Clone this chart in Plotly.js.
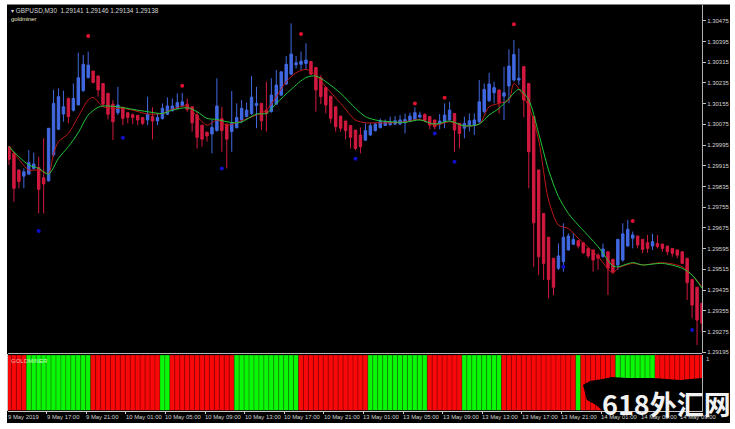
<!DOCTYPE html>
<html><head><meta charset="utf-8">
<script src="https://cdn.plot.ly/plotly-3.0.1.min.js"></script>
<style>html,body{margin:0;padding:0;background:#fff;overflow:hidden}</style>
</head><body><div id="chart" style="width:735px;height:429px"></div>
<script>
// Prices in points (1e-5)
const priceOpen=[129989,129963,129899,129875,129883,129905,129909,129869,129857,129957,130056,130115,130175,130130,130150,130205,130255,130281,130262,130233,130195,130153,130120,130141,130120,130112,130110,130102,130092,130105,130088,130097,130114,130128,130137,130147,130153,130143,130111,130072,130045,130038,130051,130097,130075,130047,130062,130092,130105,130117,130148,130156,130130,130124,130153,130188,130231,130269,130305,130307,130310,130318,130295,130255,130218,130184,130143,130107,130088,130071,130053,130034,130014,130034,130051,130062,130071,130074,130076,130076,130081,130087,130094,130103,130114,130105,130092,130076,130085,130092,130117,130079,130060,130069,130072,130085,130124,130166,130197,130208,130184,130223,130246,130246,130298,130233,130105,129899,129731,129639,129558,129519,129545,129590,129612,129626,129618,129596,129590,129570,129564,129583,129554,129532,129551,129605,129635,129644,129631,129618,129605,129615,129613,129605,129596,129590,129583,129558,129476,129446,129384];
const priceHigh=[129989,129963,129899,129905,129976,129966,129950,130021,130060,130208,130214,130205,130178,130233,130352,130343,130356,130281,130262,130233,130195,130169,130220,130141,130120,130117,130110,130102,130182,130141,130117,130156,130179,130175,130195,130197,130175,130143,130124,130072,130045,130092,130253,130143,130079,130204,130156,130169,130159,130262,130220,130156,130240,130253,130285,130278,130339,130465,130339,130356,130388,130318,130295,130265,130218,130184,130143,130107,130088,130071,130053,130063,130079,130079,130081,130098,130094,130105,130107,130111,130117,130120,130141,130124,130117,130105,130092,130115,130156,130162,130117,130079,130105,130117,130117,130246,130233,130274,130240,130208,130298,130365,130401,130368,130298,130233,130105,129899,129731,129639,129558,129615,129693,129654,129654,129626,129618,129596,129590,129577,129615,129583,129554,129631,129693,129706,129661,129644,129631,129648,129652,129648,129613,129605,129596,129590,129583,129558,129476,129446,129384];
const priceLow=[129918,129776,129828,129828,129879,129899,129731,129731,129854,129950,130053,130085,130079,130124,130150,130201,130253,130233,130182,130146,130094,130014,130111,130072,130079,130076,130072,130072,130072,130017,130072,130094,130111,130124,130133,130143,130124,130047,129982,129989,130008,129963,130047,129969,129905,129969,130060,130079,130102,130111,130060,130053,130047,130120,130150,130184,130227,130265,130291,130285,130285,130265,130124,130153,130117,130079,130047,130047,130017,129982,129976,129963,130012,130030,130047,130060,130069,130069,130072,130072,130040,130084,130092,130098,130085,130056,130056,130056,130060,130089,129969,129982,130021,130047,130034,130079,130117,130162,130156,130117,130092,130156,130240,130227,130102,129828,129525,129493,129474,129403,129416,129513,129506,129587,129609,129596,129574,129558,129506,129513,129561,129416,129500,129513,129545,129603,129596,129596,129577,129579,129590,129596,129583,129570,129564,129558,129538,129397,129326,129223,129274];
const priceClose=[129940,129828,129854,129892,129927,129922,129824,129845,130060,130156,130182,130143,130105,130175,130255,130307,130304,130237,130208,130153,130114,130085,130150,130098,130102,130102,130092,130079,130114,130088,130102,130137,130146,130146,130159,130162,130133,130081,130025,130018,130030,130063,130146,130051,130018,130079,130102,130137,130130,130180,130156,130089,130117,130188,130227,130278,130307,130347,130313,130319,130323,130269,130208,130182,130150,130098,130066,130060,130051,130025,129982,129989,130051,130070,130076,130089,130085,130085,130089,130092,130094,130107,130120,130111,130089,130072,130066,130088,130111,130130,130053,130040,130079,130089,130092,130162,130210,130231,130217,130159,130197,130300,130345,130253,130169,129969,129695,129564,129538,129476,129446,129567,129639,129644,129631,129605,129579,129567,129551,129558,129594,129519,129506,129631,129652,129670,129648,129609,129592,129596,129622,129603,129596,129583,129577,129570,129538,129464,129377,129319,129307];

const slowBar=[0,2,4,6,8,10,12,14,16,18,19,22,25,28,31,33,36,38,40,42,44,46,47,50,52,54,57,60,62,64,67,70,72,74,77,80,83,86,89,92,95,97,99,101,103,105,107,109,111,113,115,119,122,123,126,128,132,136,138,140];
const slowMA=[129989,129950,129918,129905,129883,129944,129989,130043,130111,130141,130146,130143,130133,130124,130117,130130,130139,130124,130098,130094,130085,130081,130084,130115,130117,130156,130210,130256,130262,130240,130195,130137,130105,130092,130085,130083,130092,130076,130088,130069,130076,130111,130137,130175,130210,130169,130040,129899,129796,129731,129686,129603,129528,129525,129541,129532,129538,129519,129493,129442];
const fastBar=[0,2,4,6,8,9,10,12,14,16,17,19,21,23,25,28,31,33,36,38,40,42,44,46,47,50,52,54,56,58,60,62,64,67,70,72,74,77,80,83,86,89,92,95,97,99,101,102,105,107,109,111,113,115,119,122,123,126,128,132,136,138,140];
const fastMA=[129989,129940,129899,129899,129886,129963,130008,130040,130105,130169,130179,130143,130137,130137,130130,130115,130117,130133,130146,130105,130072,130092,130072,130081,130089,130111,130130,130182,130240,130274,130287,130265,130220,130156,130092,130081,130081,130081,130085,130094,130072,130085,130069,130076,130143,130156,130169,130233,130143,130014,129783,129686,129673,129635,129564,129500,129519,129538,129532,129541,129525,129493,129448];

const sellBar=[16,35,59,82,88,102,126];
const sellPrice=[130416,130224,130424,130156,130178,130462,129702];
const buyBar=[6,23,43,70,86,90,112,138];
const buyPrice=[129663,130023,129905,129942,130040,129931,129525,129281];

// R = red bar, G = green bar of the GOLDMINER pane
const minerState="RRRRGGGGGGGGGGGGGRRRRRRRRRRRRRRGGRRRRRRRRRRRRRGGGGGGGGGGGGGRRRRRRRRRRRRRRGGGGGGGGGGGGRRRRRRRGGGGGGGGRRRRRRRRRRRRRRRGRRRRRRRGGGGGGGGRRRRRRRRRR".split("");

const priceTicks=[1.30475,1.30395,1.30315,1.30235,1.30155,1.30075,1.29995,1.29915,1.29835,1.29755,1.29675,1.29595,1.29515,1.29435,1.29355,1.29275,1.29195];
const timeTickBar=[-0.4,7.6,15.6,23.6,31.6,39.6,47.6,55.6,63.6,71.6,79.6,87.6,95.6,103.6,111.6,119.6,127.6,135.6];
const timeTickText=["9 May 2019","9 May 17:00","9 May 21:00","10 May 01:00","10 May 05:00","10 May 09:00","10 May 13:00","10 May 17:00","10 May 21:00","13 May 01:00","13 May 05:00","13 May 09:00","13 May 13:00","13 May 17:00","13 May 21:00","14 May 01:00","14 May 05:00","14 May 09:00"];

const bars=priceOpen.map((_,i)=>i);
const pts=a=>a.map(v=>v/1e5);
const W=735,H=429;
const px=x=>x/W, py=y=>1-y/H;
const FONT="Liberation Sans, Arial, sans-serif";
const C_TXT="#d4d4d4";

const traces=[
 {type:"candlestick",x:bars,open:pts(priceOpen),high:pts(priceHigh),low:pts(priceLow),close:pts(priceClose),
  xaxis:"x",yaxis:"y",whiskerwidth:0,hoverinfo:"skip",
  increasing:{line:{color:"#4169e1",width:1},fillcolor:"#4169e1"},
  decreasing:{line:{color:"#d2193f",width:1},fillcolor:"#d2193f"}},
 {type:"scatter",mode:"lines",x:fastBar,y:pts(fastMA),xaxis:"x",yaxis:"y",hoverinfo:"skip",
  line:{color:"#c01818",width:1,shape:"spline",smoothing:0.8}},
 {type:"scatter",mode:"lines",x:slowBar,y:pts(slowMA),xaxis:"x",yaxis:"y",hoverinfo:"skip",
  line:{color:"#22c83a",width:1,shape:"spline",smoothing:0.8}},
 {type:"scatter",mode:"markers",x:sellBar,y:pts(sellPrice),xaxis:"x",yaxis:"y",hoverinfo:"skip",
  marker:{color:"#e01030",size:4}},
 {type:"scatter",mode:"markers",x:buyBar,y:pts(buyPrice),xaxis:"x",yaxis:"y",hoverinfo:"skip",
  marker:{color:"#1010c8",size:4}},
 {type:"bar",x:bars,y:minerState.map(()=>1),xaxis:"x",yaxis:"y2",hoverinfo:"skip",width:1,
  marker:{color:minerState.map(s=>s==="R"?"#f80808":"#08f808"),line:{color:"rgba(60,0,0,0.28)",width:0.8}}}
];

const notes=[];
const txt=(x,y,text,size,color,extra)=>notes.push(Object.assign({xref:"paper",yref:"paper",x:px(x),y:py(y),text,showarrow:false,
  xanchor:"left",yanchor:"middle",align:"left",font:{family:FONT,size,color}},extra||{}));
txt(9,10.5,"▾ GBPUSD,M30  1.29141 1.29146 1.29134 1.29138",6.4,C_TXT);
txt(8.5,19,"goldminer",5.8,"#e8e8c8");
txt(8.5,360.5,'<span style="color:#ffb0b0">GOLD</span><span style="color:#c8ffc8">MINER</span>',6,"#fff");
txt(704,359,"1",6,C_TXT);
timeTickBar.forEach((b,i)=>{
  // bars are 4.95 px apart; the first label sits left of the visible bar range, so it is placed in paper units
  if(b<0) txt(6,417,timeTickText[i],5.9,C_TXT);
  else notes.push({xref:"x",yref:"paper",x:b,y:py(417),text:timeTickText[i],showarrow:false,xanchor:"left",yanchor:"middle",xshift:-2,
    font:{family:FONT,size:5.9,color:C_TXT}});
});
// site watermark sits on top of the picture
notes.push({xref:"paper",yref:"paper",x:px(600),y:py(403),text:"<b>618外汇网</b>",showarrow:false,xanchor:"left",yanchor:"middle",
  font:{family:"Noto Sans CJK SC",size:27,color:"#f2f2f2"}});

const poly=[[583,385],[590,381],[603,379],[612,377],[627,378],[653,378],[680,380],[702,378],[702,411],[603,411],[596,405],[587,400]];
const polyPath="M"+poly.map(p=>px(p[0]).toFixed(4)+","+py(p[1]).toFixed(4)).join(" L")+" Z";
const rect=(x0,y0,x1,y1,fill,line,layer)=>({type:"rect",xref:"paper",yref:"paper",x0:px(x0),y0:py(y0),x1:px(x1),y1:py(y1),
  fillcolor:fill,line:line?{color:line,width:1}:{width:0},layer:layer||"below"});

const layout={
 width:W,height:H,margin:{l:0,r:0,t:0,b:0,pad:0},paper_bgcolor:"#ffffff",plot_bgcolor:"rgba(0,0,0,0)",
 showlegend:false,bargap:0,dragmode:false,hovermode:false,
 xaxis:{domain:[px(8),px(702)],range:[-0.2,140],anchor:"y2",rangeslider:{visible:false},showgrid:false,zeroline:false,
   showline:true,linecolor:"#c8c8c8",linewidth:1,ticks:"outside",ticklen:2,tickcolor:"#d0d0d0",tickmode:"array",tickvals:timeTickBar.slice(1),showticklabels:false},
 yaxis:{domain:[py(353),py(5)],range:[1.29192,1.30536],side:"right",anchor:"x",showgrid:false,zeroline:false,
   showline:true,linecolor:"#b0b0b0",linewidth:1,ticks:"outside",ticklen:3,tickcolor:"#c0c0c0",tickmode:"array",
   tickvals:priceTicks,ticktext:priceTicks.map(v=>v.toFixed(5)),tickfont:{family:FONT,size:6,color:C_TXT}},
 yaxis2:{domain:[py(410.5),py(355)],range:[0,1],side:"right",anchor:"x",showgrid:false,zeroline:false,
   showline:true,linecolor:"#b0b0b0",linewidth:1,ticks:"",showticklabels:false},
 shapes:[
   rect(7,4,730,423,"#000000",null),
   {type:"line",xref:"paper",yref:"paper",x0:px(6.5),x1:px(730),y0:py(4),y1:py(4),line:{color:"#ffffff",width:1},layer:"below"},
   {type:"line",xref:"paper",yref:"paper",x0:px(8),x1:px(702),y0:py(353.5),y1:py(353.5),line:{color:"#b8b8b8",width:1},layer:"above"},
   {type:"line",xref:"paper",yref:"paper",x0:px(7.5),x1:px(7.5),y0:py(354),y1:py(411),line:{color:"#c8c8c8",width:1},layer:"above"},
   {type:"path",xref:"paper",yref:"paper",path:polyPath,fillcolor:"#000000",line:{width:0},layer:"above"}
 ],
 annotations:notes
};
Plotly.newPlot("chart",traces,layout,{displayModeBar:false,staticPlot:true});
</script></body></html>
